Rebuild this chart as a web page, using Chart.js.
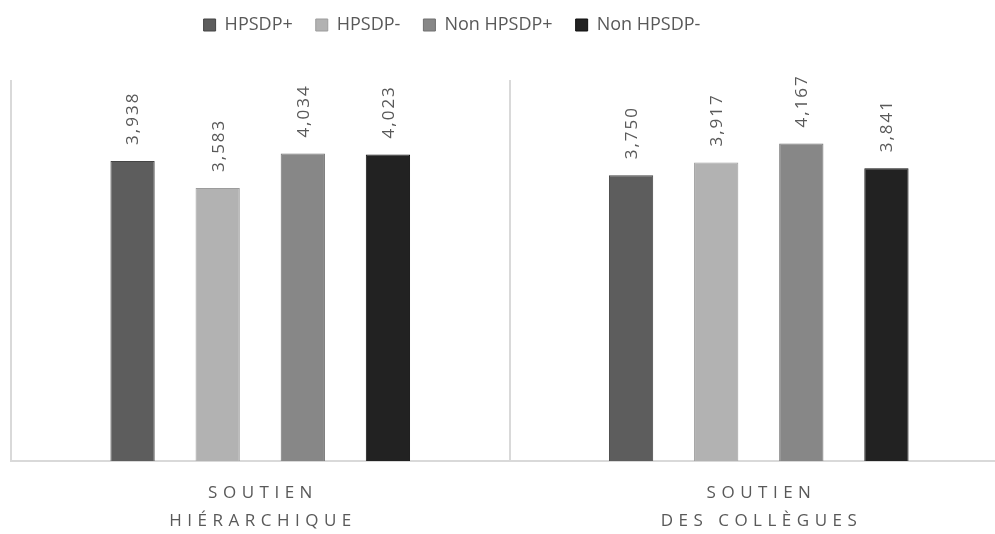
<!DOCTYPE html>
<html lang="fr">
<head>
<meta charset="utf-8">
<title>Soutien hiérarchique et soutien des collègues</title>
<script src="https://cdn.jsdelivr.net/npm/chart.js@4.4.1/dist/chart.umd.min.js"></script>
<style>
  html, body { margin: 0; padding: 0; background: #ffffff; overflow: hidden; width: 995px; height: 534px; }
  #wrap { position: absolute; left: -104px; top: -12px; width: 1112px; height: 546px; }
</style>
</head>
<body>
<div id="wrap"><canvas id="chart" width="1112" height="546"></canvas></div>
<script>
// Catégories (chaque libellé sur deux lignes)
const categories = [
  ["SOUTIEN", "HIÉRARCHIQUE"],
  ["SOUTIEN", "DES COLLÈGUES"]
];

// Groupes comparés
const seriesNames = ["HPSDP+", "HPSDP-", "Non HPSDP+", "Non HPSDP-"];

// Scores moyens par groupe
const hpsdpPlus     = [3.938, 3.750];
const hpsdpMinus    = [3.583, 3.917];
const nonHpsdpPlus  = [4.034, 4.167];
const nonHpsdpMinus = [4.023, 3.841];

const seriesValues = [hpsdpPlus, hpsdpMinus, nonHpsdpPlus, nonHpsdpMinus];
const fills   = ["#5d5d5d", "#b2b2b2", "#878787", "#222222"];
const borders = ["#454545", "#9c9c9c", "#707070", "#111111"];

const FONT = "'Open Sans', 'Liberation Sans', sans-serif";
const TEXT = "#595959";

const fmt = v => v.toFixed(3).replace(".", ",");

// Espace libre sous la légende
const legendGap = {
  id: "legendGap",
  beforeInit(chart) {
    const fit = chart.legend.fit;
    chart.legend.fit = function () {
      fit.call(this);
      this.height += 36;
    };
  }
};

// Valeurs écrites verticalement au-dessus des barres
const valueLabels = {
  id: "valueLabels",
  afterDatasetsDraw(chart) {
    const ctx = chart.ctx;
    chart.data.datasets.forEach((ds, di) => {
      chart.getDatasetMeta(di).data.forEach((bar, i) => {
        ctx.save();
        ctx.translate(bar.x + 1, bar.y - 16);
        ctx.rotate(-Math.PI / 2);
        ctx.font = "17px " + FONT;
        ctx.letterSpacing = "2px";
        ctx.fillStyle = TEXT;
        ctx.textAlign = "left";
        ctx.textBaseline = "middle";
        ctx.fillText(fmt(ds.data[i]), 0, 0);
        ctx.restore();
      });
    });
  }
};

// Libellés des catégories, espacés, sous l'axe
const categoryLabels = {
  id: "categoryLabels",
  afterDraw(chart) {
    const ctx = chart.ctx;
    const x = chart.scales.x;
    const base = chart.chartArea.bottom;
    categories.forEach((lines, i) => {
      const cx = x.getPixelForValue(i);
      lines.forEach((line, k) => {
        ctx.save();
        ctx.font = "17px " + FONT;
        ctx.letterSpacing = "5.5px";
        ctx.fillStyle = TEXT;
        ctx.textAlign = "center";
        ctx.textBaseline = "middle";
        ctx.fillText(line, cx + 2.75, base + 32 + k * 28);
        ctx.restore();
      });
    });
  }
};

new Chart(document.getElementById("chart"), {
  type: "bar",
  data: {
    labels: categories.map(c => c.join(" ")),
    datasets: seriesNames.map((name, i) => ({
      label: name,
      data: seriesValues[i],
      backgroundColor: fills[i],
      borderColor: borders[i],
      borderWidth: 1,
      categoryPercentage: 0.683,
      barPercentage: 0.52
    }))
  },
  options: {
    responsive: false,
    animation: false,
    devicePixelRatio: 1,
    layout: { padding: { top: 5, right: 0, bottom: 73, left: 0 } },
    plugins: {
      legend: {
        position: "top",
        align: "center",
        labels: {
          boxWidth: 12,
          boxHeight: 12,
          padding: 23,
          color: TEXT,
          font: { family: FONT, size: 18 }
        }
      },
      tooltip: { enabled: false }
    },
    scales: {
      x: {
        grid: { display: true, offset: true, color: "#d9d9d9", lineWidth: 2, drawTicks: false },
        border: { display: true, color: "#d9d9d9", width: 2 },
        ticks: { display: false }
      },
      y: {
        min: 0,
        max: 5,
        grid: { display: false },
        border: { display: false },
        ticks: { display: false },
        afterFit(scale) { scale.width = 115; }
      }
    }
  },
  plugins: [legendGap, valueLabels, categoryLabels]
});
</script>
</body>
</html>
